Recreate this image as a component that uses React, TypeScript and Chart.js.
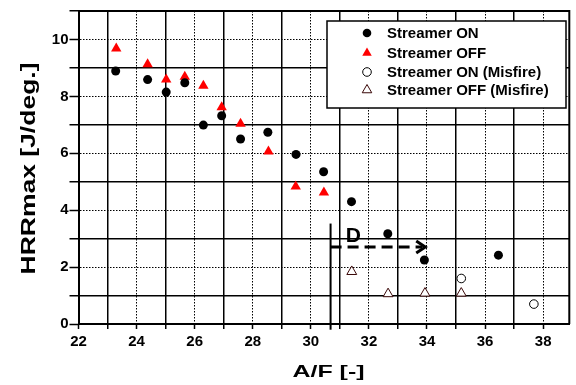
import { useEffect, useRef } from 'react';
import { Chart, registerables } from 'chart.js';
import * as helpers from 'chart.js/helpers';

Chart.register(...registerables);

const FONT = '"Liberation Sans", Arial, Helvetica, sans-serif';

// Streamer ON
const onX = [23.28, 24.38, 25.02, 25.66, 26.3, 26.93, 27.58, 28.52, 29.49, 30.44, 31.4, 32.65, 33.91, 36.46];
const onY = [8.89, 8.59, 8.15, 8.48, 6.99, 7.32, 6.5, 6.74, 5.96, 5.35, 4.3, 3.17, 2.25, 2.42];
// Streamer OFF
const offX = [23.3, 24.38, 25.02, 25.66, 26.3, 26.93, 27.58, 28.54, 29.48, 30.45];
const offY = [9.68, 9.13, 8.59, 8.69, 8.37, 7.62, 7.04, 6.06, 4.83, 4.62];
// Streamer ON (Misfire)
const onMisX = [35.18, 37.68];
const onMisY = [1.6, 0.7];
// Streamer OFF (Misfire)
const offMisX = [31.41, 32.66, 33.93, 35.18];
const offMisY = [1.84, 1.06, 1.08, 1.08];

const seriesLabels = ['Streamer ON', 'Streamer OFF', 'Streamer ON (Misfire)', 'Streamer OFF (Misfire)'];

// axes
const xMin = 22;
const xMax = 38.9;
const yMin = 0;
const yMax = 11;
const xTitle = 'A/F [-]';
const yTitle = 'HRRmax [J/deg.]';

// annotation "D"
const arrowX = [30.68, 33.94];
const arrowY = 2.71;
const dLabel = 'D';
const dPos = [31.2, 2.89];
const vSegX = 30.68;
const vSegY = [3.53, -0.2];

const toPts = (xs: number[], ys: number[]) => xs.map((x, i) => ({ x, y: ys[i] }));

const overlay = {
  id: 'overlay',
  afterDatasetsDraw(chart: any) {
    const { ctx, chartArea: a, scales } = chart;
    const sx = scales.x;
    const sy = scales.y;
    ctx.save();
    // frame top & right
    ctx.strokeStyle = '#000';
    ctx.lineWidth = 2;
    ctx.setLineDash([]);
    ctx.beginPath();
    ctx.moveTo(a.left, a.top);
    ctx.lineTo(a.right, a.top);
    ctx.lineTo(a.right, a.bottom);
    ctx.stroke();

    // vertical segment
    ctx.lineWidth = 2;
    ctx.beginPath();
    ctx.moveTo(sx.getPixelForValue(vSegX), sy.getPixelForValue(vSegY[0]));
    ctx.lineTo(sx.getPixelForValue(vSegX), sy.getPixelForValue(vSegY[1]));
    ctx.stroke();

    // dashed arrow
    const x0 = sx.getPixelForValue(arrowX[0]);
    const x1 = sx.getPixelForValue(arrowX[1]);
    const ay = sy.getPixelForValue(arrowY);
    ctx.lineWidth = 3;
    ctx.setLineDash([11, 6]);
    ctx.beginPath();
    ctx.moveTo(x0, ay);
    ctx.lineTo(x1 - 3, ay);
    ctx.stroke();
    ctx.setLineDash([]);
    ctx.lineWidth = 3;
    ctx.beginPath();
    ctx.moveTo(x1 - 9, ay - 6);
    ctx.lineTo(x1, ay);
    ctx.lineTo(x1 - 9, ay + 6);
    ctx.stroke();

    // D label
    ctx.fillStyle = '#000';
    ctx.font = `bold 21px ${FONT}`;
    ctx.textAlign = 'left';
    ctx.textBaseline = 'alphabetic';
    ctx.fillText(dLabel, sx.getPixelForValue(dPos[0]), sy.getPixelForValue(dPos[1]));

    // legend
    const bx = 327, by = 21, bw = 239, bh = 87;
    ctx.fillStyle = '#fff';
    ctx.fillRect(bx, by, bw, bh);
    ctx.strokeStyle = '#000';
    ctx.lineWidth = 1.5;
    ctx.strokeRect(bx, by, bw, bh);
    const rows = [33, 53, 72, 90];
    chart.data.datasets.forEach((ds: any, i: number) => {
      const r = rows[i];
      ctx.fillStyle = ds.backgroundColor;
      ctx.strokeStyle = ds.borderColor;
      ctx.lineWidth = ds.borderWidth;
      helpers.drawPoint(ctx, {
        pointStyle: ds.pointStyle,
        rotation: 0,
        radius: ds.pointStyle === 'triangle' ? 5.5 : 4.3,
        borderWidth: ds.borderWidth,
      } as any, 367, r);
      ctx.fillStyle = '#000';
      ctx.font = `bold 15px ${FONT}`;
      ctx.textBaseline = 'middle';
      ctx.textAlign = 'left';
      ctx.fillText(ds.label, 387, r + 1);
    });

    // axis titles (stretched)
    ctx.fillStyle = '#000';
    ctx.textAlign = 'center';
    ctx.textBaseline = 'alphabetic';
    ctx.font = `bold 17px ${FONT}`;
    let w = ctx.measureText(xTitle).width;
    ctx.save();
    ctx.translate(328.5, 377);
    ctx.scale(72 / w, 1);
    ctx.fillText(xTitle, 0, 0);
    ctx.restore();

    ctx.font = `bold 20px ${FONT}`;
    w = ctx.measureText(yTitle).width;
    ctx.save();
    ctx.translate(35, 168.5);
    ctx.rotate(-Math.PI / 2);
    ctx.scale(212 / w, 1);
    ctx.fillText(yTitle, 0, 0);
    ctx.restore();

    ctx.restore();
  },
};

const gridCommon = (axis: 'x' | 'y') => ({
  grid: {
    color: '#000',
    lineWidth: (c: any) => (c.tick && Math.round(c.tick.value) % 2 !== 0 ? 1.5 : 1),
    tickLength: axis === 'x' ? 5 : 9,
    tickColor: '#000',
    tickWidth: 1.5,
    tickBorderDash: [],
    drawOnChartArea: true,
  },
  border: {
    display: true,
    color: '#000',
    width: 2,
    dash: (c: any) => (c.tick && Math.round(c.tick.value) % 2 === 0 ? [1.5, 1.5] : []),
  },
});

export default function App() {
  const ref = useRef<HTMLCanvasElement | null>(null);
  useEffect(() => {
    if (!ref.current) return;
    const chart = new Chart(ref.current, {
      type: 'scatter',
      data: {
        datasets: [
          {
            label: seriesLabels[0],
            data: toPts(onX, onY),
            pointStyle: 'circle',
            pointRadius: 4.5,
            backgroundColor: '#000',
            borderColor: '#000',
            borderWidth: 0,
          },
          {
            label: seriesLabels[1],
            data: toPts(offX, offY),
            pointStyle: 'triangle',
            pointRadius: 6,
            backgroundColor: '#ff0000',
            borderColor: '#ff0000',
            borderWidth: 0,
          },
          {
            label: seriesLabels[2],
            data: toPts(onMisX, onMisY),
            pointStyle: 'circle',
            pointRadius: 4.3,
            backgroundColor: '#fff',
            borderColor: '#000',
            borderWidth: 1,
          },
          {
            label: seriesLabels[3],
            data: toPts(offMisX, offMisY),
            pointStyle: 'triangle',
            pointRadius: 5.7,
            backgroundColor: '#fff',
            borderColor: '#3a0808',
            borderWidth: 1,
          },
        ] as any,
      },
      options: {
        responsive: false,
        animation: false,
        layout: { padding: { top: 11, right: 1, left: 0, bottom: 0 } },
        plugins: { legend: { display: false }, tooltip: { enabled: false } },
        scales: {
          x: {
            type: 'linear',
            min: xMin,
            max: xMax,
            ...gridCommon('x'),
            ticks: {
              stepSize: 1,
              includeBounds: false,
              autoSkip: false,
              maxRotation: 0,
              color: '#000',
              padding: 4,
              font: { family: FONT, size: 15, weight: 'bold' },
              callback: (v: any) => (Math.round(v) % 2 === 0 ? String(v) : ''),
            },
            title: { display: false },
            afterFit: (s: any) => {
              s.height = 61;
            },
          },
          y: {
            type: 'linear',
            min: yMin,
            max: yMax,
            ...gridCommon('y'),
            ticks: {
              stepSize: 1,
              autoSkip: false,
              color: '#000',
              padding: 1,
              font: { family: FONT, size: 15, weight: 'bold' },
              callback: (v: any) => (Math.round(v) % 2 === 0 ? String(v) : ''),
            },
            title: { display: false },
            afterFit: (s: any) => {
              s.width = 78.5;
            },
          },
        },
      } as any,
      plugins: [overlay],
    });
    return () => chart.destroy();
  }, []);
  return (
    <div style={{ position: 'fixed', left: 0, top: 0, width: 576, height: 385, background: '#fff' }}>
      <canvas ref={ref} width={576} height={385} style={{ display: 'block' }} />
    </div>
  );
}
